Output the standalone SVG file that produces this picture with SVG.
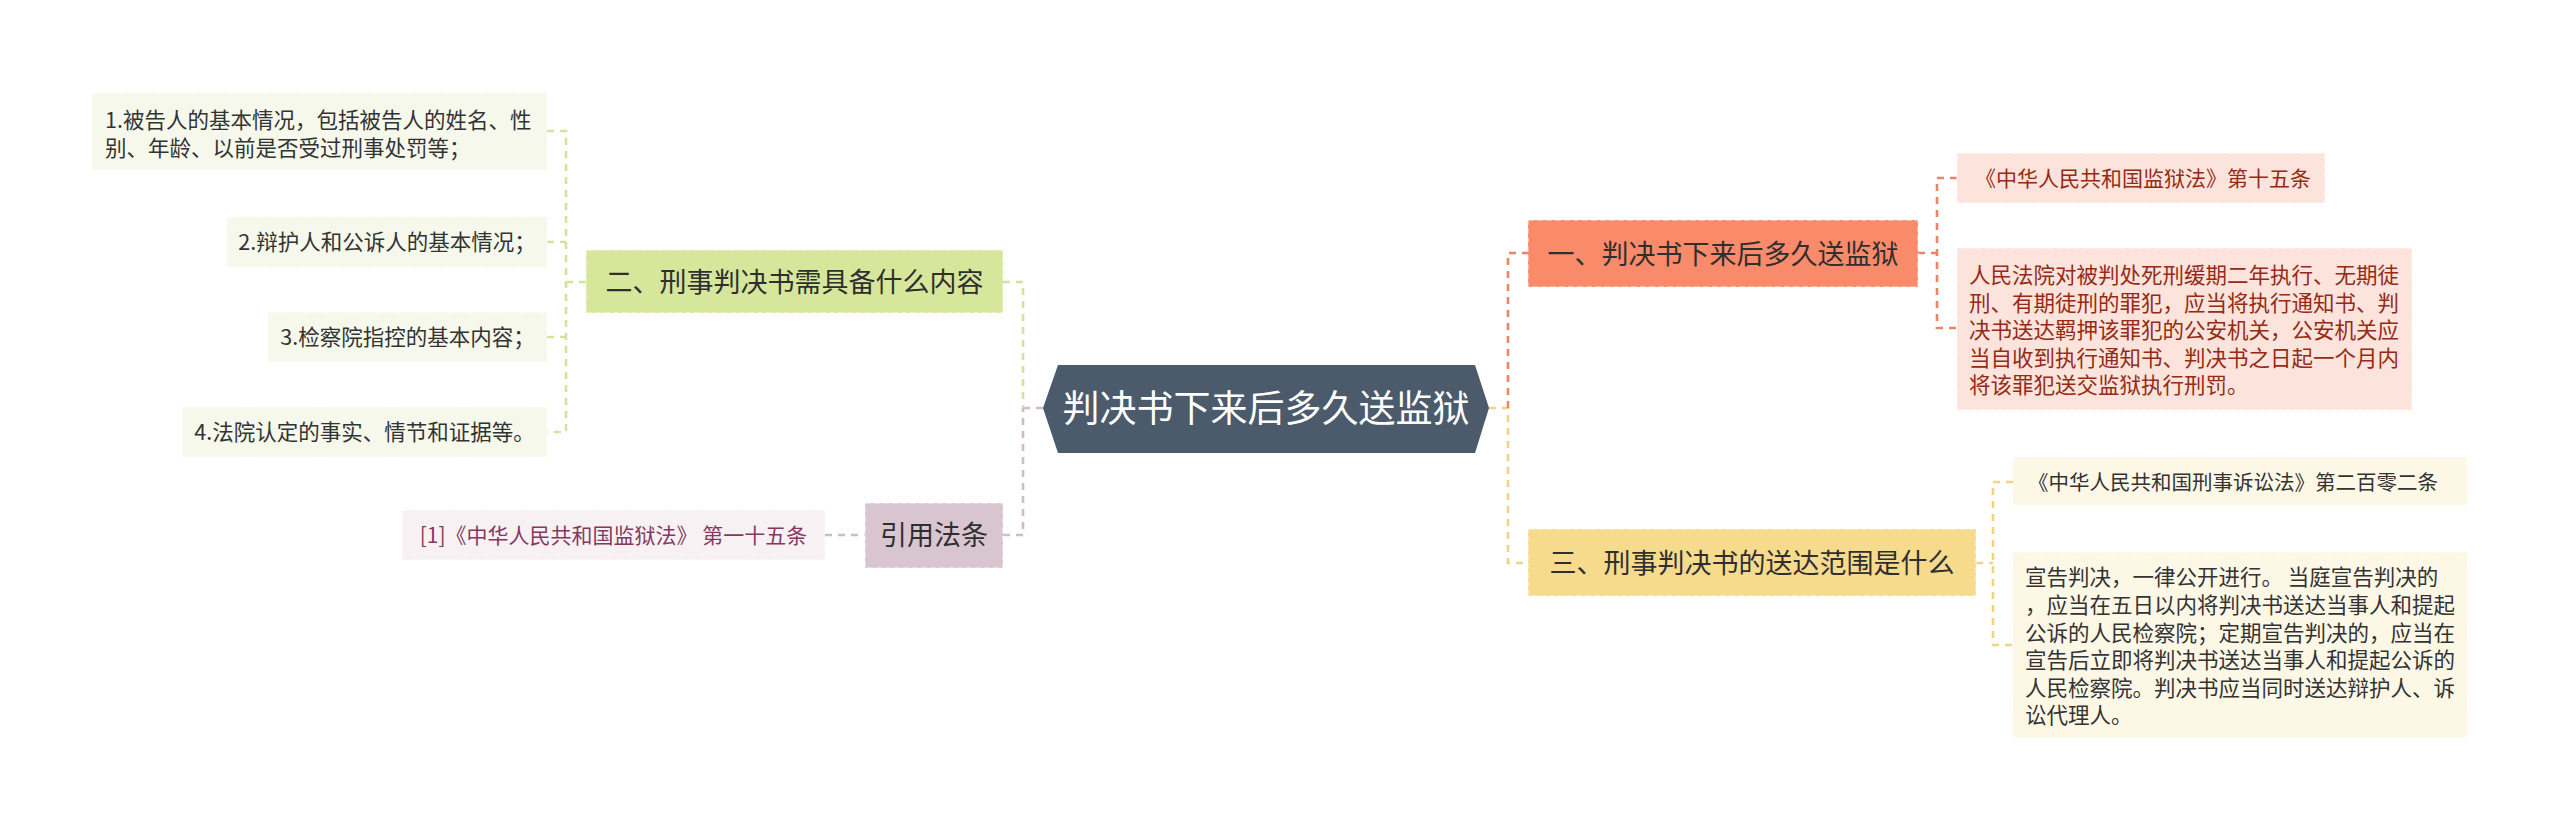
<svg xmlns="http://www.w3.org/2000/svg" width="2560" height="833" viewBox="0 0 2560 833">
<style>
text{font-family:"Noto Sans CJK SC","Noto Sans",sans-serif;fill:#333}
.root{font-size:37px;fill:#fff}
.l1{font-size:27px;fill:#2f2f2f}
.lf{font-size:21.5px}
.sl{font-size:21px}
.box{stroke:#fff;stroke-opacity:.55;stroke-width:1.5;stroke-dasharray:6 3}
.c{fill:none;stroke-width:2.6;stroke-dasharray:7 6}
.red{fill:#962a14}
.plum{fill:#86385e}
</style>
<rect width="2560" height="833" fill="#fff"/>
<g id="connectors">
<path class="c" stroke="#d0bcc8" d="M1043 408H1023M1003 535H1023V408"/>
<path class="c" stroke="#d2e39a" d="M1003 282H1023V408"/>
<path class="c" stroke="#d2e39a" d="M586 282H566M547 131H566V432H547M547 242H566M547 337H566"/>
<path class="c" stroke="#d0bcc8" d="M825 535H865"/>
<path class="c" stroke="#f1d483" d="M1489 408H1508V563H1528"/>
<path class="c" stroke="#ec8466" d="M1508 408V253H1528"/>
<path class="c" stroke="#ec8466" d="M1918 253H1937M1957 178H1937V328H1957"/>
<path class="c" stroke="#f1d483" d="M1976 563H1993M2013 482H1993V645H2013"/>
</g>
<g id="root">
<polygon points="1043,408 1058,365 1475,365 1489,408 1475,453 1058,453" fill="#4b5b6b"/>
<text class="root" x="1266" y="422" text-anchor="middle">判决书下来后多久送监狱</text>
</g>
<g id="n1">
<rect class="box" x="1528" y="220" width="390" height="67" fill="#f98b6b"/>
<text class="l1" x="1723" y="264" text-anchor="middle">一、判决书下来后多久送监狱</text>
</g>
<g id="n1a">
<rect class="box" x="1957" y="153" width="368" height="50" fill="#fce4dc"/>
<text class="sl red" x="1975" y="186">《中华人民共和国监狱法》第十五条</text>
</g>
<g id="n1b">
<rect class="box" x="1957" y="248" width="455" height="162" fill="#fce4dc"/>
<text class="lf red" x="1969"><tspan x="1969" y="283">人民法院对被判处死刑缓期二年执行、无期徒</tspan><tspan x="1969" y="311">刑、有期徒刑的罪犯，应当将执行通知书、判</tspan><tspan x="1969" y="338">决书送达羁押该罪犯的公安机关，公安机关应</tspan><tspan x="1969" y="366">当自收到执行通知书、判决书之日起一个月内</tspan><tspan x="1969" y="393">将该罪犯送交监狱执行刑罚。</tspan></text>
</g>
<g id="n3">
<rect class="box" x="1528" y="529" width="448" height="67" fill="#f7db8c"/>
<text class="l1" x="1752" y="573" text-anchor="middle">三、刑事判决书的送达范围是什么</text>
</g>
<g id="n3a">
<rect class="box" x="2013" y="457" width="454" height="48" fill="#fdf7e6"/>
<text class="sl" x="2028" y="490" style="font-size:20.5px">《中华人民共和国刑事诉讼法》第二百零二条</text>
</g>
<g id="n3b">
<rect class="box" x="2013" y="552" width="454" height="186" fill="#fdf7e6"/>
<text class="lf" x="2025"><tspan x="2025" y="585">宣告判决，一律公开进行。 当庭宣告判决的</tspan><tspan x="2025" y="613">，应当在五日以内将判决书送达当事人和提起</tspan><tspan x="2025" y="641">公诉的人民检察院；定期宣告判决的，应当在</tspan><tspan x="2025" y="668">宣告后立即将判决书送达当事人和提起公诉的</tspan><tspan x="2025" y="696">人民检察院。判决书应当同时送达辩护人、诉</tspan><tspan x="2025" y="723">讼代理人。</tspan></text>
</g>
<g id="n2">
<rect class="box" x="586" y="250" width="417" height="63" fill="#d6e69a"/>
<text class="l1" x="794.5" y="292" text-anchor="middle">二、刑事判决书需具备什么内容</text>
</g>
<g id="n2a">
<rect class="box" x="92" y="93" width="455" height="77" fill="#f5f8ea"/>
<text class="lf" x="105"><tspan x="105" y="128">1.被告人的基本情况，包括被告人的姓名、性</tspan><tspan x="105" y="156">别、年龄、以前是否受过刑事处罚等；</tspan></text>
</g>
<g id="n2b">
<rect class="box" x="227" y="217" width="320" height="50" fill="#f5f8ea"/>
<text class="lf" x="387" y="250" text-anchor="middle">2.辩护人和公诉人的基本情况；</text>
</g>
<g id="n2c">
<rect class="box" x="268" y="312" width="279" height="50" fill="#f5f8ea"/>
<text class="lf" x="407.5" y="345" text-anchor="middle">3.检察院指控的基本内容；</text>
</g>
<g id="n2d">
<rect class="box" x="182" y="407" width="365" height="50" fill="#f5f8ea"/>
<text class="lf" x="364.5" y="440" text-anchor="middle">4.法院认定的事实、情节和证据等。</text>
</g>
<g id="n4">
<rect class="box" x="865" y="503" width="138" height="65" fill="#d9c5d0"/>
<text class="l1" x="934" y="545" text-anchor="middle">引用法条</text>
</g>
<g id="n4a">
<rect class="box" x="402" y="510" width="423" height="50" fill="#f7f1f4"/>
<text class="sl plum" x="613.5" y="543" text-anchor="middle">[1]《中华人民共和国监狱法》 第一十五条</text>
</g>
</svg>
